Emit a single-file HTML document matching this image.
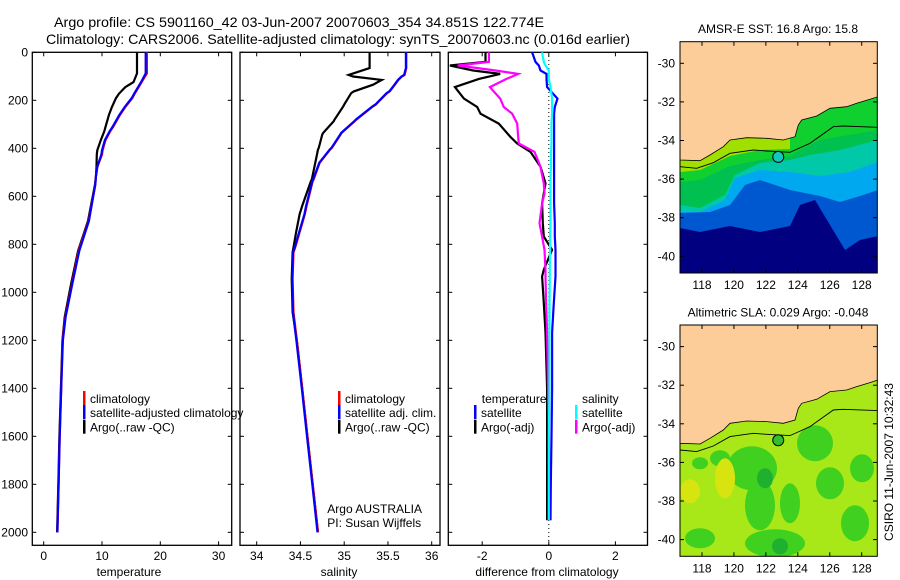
<!DOCTYPE html>
<html><head><meta charset="utf-8"><style>
html,body{margin:0;padding:0;background:#fff;}
svg{display:block;font-family:"Liberation Sans",sans-serif;}
</style></head><body>
<svg id="chart" width="900" height="580" viewBox="0 0 900 580" xmlns="http://www.w3.org/2000/svg">
<text x="54" y="27" font-size="14" textLength="490" lengthAdjust="spacingAndGlyphs">Argo profile: CS 5901160_42 03-Jun-2007 20070603_354 34.851S 122.774E</text>
<text x="46" y="44" font-size="14" textLength="584" lengthAdjust="spacingAndGlyphs">Climatology: CARS2006. Satellite-adjusted climatology: synTS_20070603.nc (0.016d earlier)</text>
<g id="plots"></g>
</svg>
<script>
// depth levels (m)
const tDepth=[0,88,124,145,173,191,228,260,311,329,366,408,426,477,518,551,703,827,965,1103,1200,1400,1600,1800,2000];
const tClim =[17.7,17.7,16.8,16.3,15.6,15.2,14.0,13.1,11.9,11.4,10.6,10.1,10.0,9.2,8.95,8.85,7.7,6.0,4.85,3.7,3.25,3.0,2.75,2.55,2.35];
const tSat  =[17.5,17.5,16.7,16.2,15.5,15.1,13.9,13.0,11.8,11.3,10.5,10.0,9.9,9.2,8.95,8.85,7.75,6.1,4.9,3.75,3.3,3.0,2.75,2.55,2.35];
const tArgo =[16.0,16.0,15.4,14.0,12.9,12.4,11.7,11.2,10.6,10.4,9.8,9.2,9.1,9.05,8.95,8.8,7.6,5.9,4.7,3.6,3.2,2.95,2.7,2.5,2.3];
const sDepth=[0,66,94,101,115,135,163,170,218,225,280,287,336,342,398,405,460,530,537,640,675,750,813,833,944,1083,1205,1400,1600,1800,2000];
const sClim =[35.71,35.71,35.69,35.66,35.62,35.58,35.52,35.49,35.36,35.33,35.14,35.12,34.97,34.96,34.86,34.84,34.72,34.65,34.64,34.57,34.55,34.49,34.44,34.42,34.41,34.42,34.46,34.52,34.58,34.64,34.70];
const sArgo =[35.29,35.29,35.05,35.10,35.43,35.33,35.11,35.08,35.0,34.99,34.89,34.88,34.76,34.75,34.71,34.70,34.67,34.63,34.62,34.52,34.49,34.45,34.42,34.41,34.40,34.41,34.46,34.52,34.58,34.64,34.70];
const dDepth=[0,40,55,76,90,111,145,193,228,256,297,353,380,415,477,491,546,588,629,712,768,823,906,934,1045,1168,1400,1600,1800,1950];
const dTemp =[-1.9,-1.9,-2.97,-2.27,-1.46,-2.1,-2.82,-2.55,-2.15,-2.05,-1.5,-1.15,-0.95,-0.55,-0.25,-0.22,-0.1,-0.15,-0.2,-0.18,-0.15,0.1,-0.15,-0.2,-0.15,-0.1,-0.05,-0.05,-0.05,-0.05];
const dSal  =[-1.8,-1.8,-2.73,-1.6,-0.92,-1.27,-1.77,-1.46,-1.35,-1.1,-0.95,-0.92,-0.9,-0.43,-0.25,-0.23,-0.15,-0.13,-0.2,-0.28,-0.2,-0.13,-0.1,-0.1,-0.08,-0.05,-0.02,0.0,0.0,0.0];
const dTSat =[-0.5,-0.4,-0.3,-0.25,-0.07,-0.07,-0.05,0.26,0.18,0.16,0.16,0.16,0.16,0.16,0.16,0.16,0.16,0.16,0.16,0.18,0.18,0.2,0.2,0.2,0.15,0.1,0.1,0.08,0.06,0.05];
const dSSat =[-0.2,-0.15,-0.1,0.0,0.0,0.0,0.05,0.1,0.1,0.1,0.08,0.08,0.08,0.07,0.07,0.06,0.05,0.05,0.05,0.05,0.04,0.04,0.03,0.03,0.02,0.02,0.02,0.0,0.0,0.0];
const depthTicks=[0,200,400,600,800,1000,1200,1400,1600,1800,2000];
const tTicks=[0,10,20,30], sTicks=[34,34.5,35,35.5,36], dTicks=[-2,0,2];
const latTicks=[-30,-32,-34,-36,-38,-40], lonTicks=[118,120,122,124,126,128];

const NS="http://www.w3.org/2000/svg";
const G=document.getElementById('plots');
function mk(tag,attrs,parent){const e=document.createElementNS(NS,tag);for(const k in attrs)e.setAttribute(k,attrs[k]);(parent||G).appendChild(e);return e;}
const yD=d=>52.3+d*0.24;
const panels=[
 {x0:32.3,x1:231.7,sx:v=>43.7+v*5.83,ticks:tTicks,lab:'temperature',lx:129,nm:'temperature-panel',ylabels:true},
 {x0:240,x1:440,sx:v=>256.7+(v-34)*87.5,ticks:sTicks,lab:'salinity',lx:339,nm:'salinity-panel'},
 {x0:448.3,x1:647.5,sx:v=>548.8+v*33.3,ticks:dTicks,lab:'difference from climatology',lx:547,nm:'difference-panel'}];
panels.forEach(p=>{
 const g=mk('g',{});
 
 
 const r=mk('rect',{x:p.x0,y:52.3,width:p.x1-p.x0,height:493,fill:'none',stroke:'#000','stroke-width':1.3},g);
 
 
 depthTicks.forEach(d=>{
  mk('line',{x1:p.x0,x2:p.x0+4,y1:yD(d),y2:yD(d),stroke:'#000'},g);
  mk('line',{x1:p.x1,x2:p.x1-4,y1:yD(d),y2:yD(d),stroke:'#000'},g);
  if(p.ylabels){const t=mk('text',{x:28,y:yD(d)+4,'font-size':12,'text-anchor':'end'},g);t.textContent=d;
   
   }
 });
 p.ticks.forEach(v=>{
  const x=p.sx(v);
  mk('line',{x1:x,x2:x,y1:52.3,y2:56.3,stroke:'#000'},g);
  mk('line',{x1:x,x2:x,y1:545.3,y2:541.3,stroke:'#000'},g);
  const t=mk('text',{x:x,y:560,'font-size':12,'text-anchor':'middle'},g);t.textContent=v;
  
  
 });
 const t=mk('text',{x:p.lx,y:576,'font-size':12,'text-anchor':'middle'},g);t.textContent=p.lab;
 
 
 p.g=g;
});
function line(p,depths,vals,col,nm,w){
 const pts=vals.map((v,i)=>p.sx(v).toFixed(1)+','+yD(depths[i]).toFixed(1)).join(' ');
 const e=mk('polyline',{points:pts,fill:'none',stroke:col,'stroke-width':w||2.2,'stroke-linejoin':'miter'},p.g);
 
 
}
line(panels[0],tDepth,tArgo,'#000','temp-argo-line');
line(panels[0],tDepth,tClim,'#f00','temp-climatology-line');
line(panels[0],tDepth,tSat,'#00f','temp-satellite-line');
line(panels[1],sDepth,sArgo,'#000','sal-argo-line');
line(panels[1],sDepth,sClim,'#f00','sal-climatology-line');
line(panels[1],sDepth,sClim.map(v=>v-0.005),'#00f','sal-satellite-line');
mk('line',{x1:548.8,x2:548.8,y1:56,y2:545,stroke:'#000','stroke-dasharray':'1,3'},panels[2].g);
line(panels[2],dDepth,dTemp,'#000','diff-temp-argo-line');
line(panels[2],dDepth,dSal,'#f0f','diff-sal-argo-line');
line(panels[2],dDepth,dTSat,'#00f','diff-temp-satellite-line');
line(panels[2],dDepth,dSSat,'#0ff','diff-sal-satellite-line');

function legend(x,y,col,txt,nm){
 const g=mk('g',{});
 
 
 if(col)mk('rect',{x:x,y:y-7,width:2.5,height:14,fill:col},g);
 const t=mk('text',{x:x+(col?7:0),y:y+5,'font-size':12},g);t.textContent=txt;
}
legend(83,398,'#f00','climatology','legend-climatology');
legend(83,412,'#00f','satellite-adjusted climatology','legend-satellite-adjusted');
legend(83,426.7,'#000','Argo(..raw -QC)','legend-argo-raw');
legend(338,398,'#f00','climatology','legend-sal-climatology');
legend(338,412,'#00f','satellite adj. clim.','legend-sal-satellite');
legend(338,426.7,'#000','Argo(..raw -QC)','legend-sal-argo');
legend(481.8,398,null,'temperature','legend-temperature-heading');
legend(582,398,null,'salinity','legend-salinity-heading');
legend(474,412,'#00f','satellite','legend-temp-satellite');
legend(474,426.7,'#000','Argo(-adj)','legend-temp-argo');
legend(575,412,'#0ff','satellite','legend-sal-satellite-diff');
legend(575,426.7,'#f0f','Argo(-adj)','legend-sal-argo-diff');
legend(327.3,508,null,'Argo AUSTRALIA','argo-australia-label');
legend(327.3,522,null,'PI: Susan Wijffels','pi-label');

// maps
const mx=lon=>702+(lon-118)*15.97;
function band(inner,o,pts,col){
 mk('path',{d:'M'+pts.map(p=>p[0]+','+(o+p[1])).join('L')+`V${o+40}H680Z`,fill:col},inner);
}
function map(oy,title,kind,nm){
 const g=mk('g',{});
 
 
 const my=lat=>oy+63.3+(-30-lat)*19.3;
 const T=mk('text',{x:778,y:oy+33,'font-size':12,'text-anchor':'middle'},g);T.textContent=title;
 
 
 const cid='clip'+Math.round(oy);
 const cp=mk('clipPath',{id:cid},g);mk('rect',{x:680,y:oy+41.7,width:197.3,height:231.3},cp);
 const inner=mk('g',{'clip-path':'url(#'+cid+')'},g);
 const o=oy;
 if(kind==='sst'){
  mk('rect',{x:680,y:o+41,width:198,height:233,fill:'#000080'},inner);
  band(inner,o,[[680,228],[700,232],[730,226],[760,232],[790,226],[800,205],[815,200],[830,225],[845,250],[860,240],[878,236]],'#0058d0');
  band(inner,o,[[680,213],[710,212],[730,205],[745,185],[760,180],[790,190],[820,196],[840,202],[860,196],[878,190]],'#00a8f0');
  band(inner,o,[[680,212],[700,212],[725,200],[735,178],[760,170],[790,172],[820,176],[850,172],[878,162]],'#00c8a8');
  band(inner,o,[[680,205],[700,208],[725,195],[735,175],[760,163],[790,160],[810,155],[840,150],[878,140]],'#00c050');
  band(inner,o,[[680,182],[700,180],[730,166],[760,160],[790,156],[800,150],[820,140],[878,130]],'#10d030');
  band(inner,o,[[680,172],[700,170],[730,156],[760,150],[790,149]],'#a0e000');
 } else {
  mk('rect',{x:680,y:o+41,width:198,height:233,fill:'#a8e818'},inner);
  [[700,180,8,6],[752,185,25,22],[760,222,15,25],[790,220,10,20],[815,160,18,18],[830,200,14,16],[862,185,12,14],[775,260,30,14],[700,255,15,10],[855,240,14,18],[720,175,10,8]].forEach(c=>
   mk('ellipse',{cx:c[0],cy:o+c[1],rx:c[2],ry:c[3],fill:'#40d020'},inner));
  [[765,195,8,10],[780,263,8,8]].forEach(c=>mk('ellipse',{cx:c[0],cy:o+c[1],rx:c[2],ry:c[3],fill:'#20b030'},inner));
  [[725,195,10,20],[690,208,10,12]].forEach(c=>mk('ellipse',{cx:c[0],cy:o+c[1],rx:c[2],ry:c[3],fill:'#d8e410'},inner));
 }
 const coast=`M680,${o+160}L700,${o+160.7}L710,${o+155}L723.3,${o+146.7}L730,${o+140}L746.7,${o+137.7}L766.7,${o+138.3}L783.3,${o+140}L795,${o+136.7}L798.3,${o+125}L801.7,${o+120}L816.7,${o+116}L830,${o+108.3}L846.7,${o+106.7}L856.7,${o+103.3}L870,${o+99.3}L878,${o+96.7}`;
 const land=mk('path',{d:coast+`V${o+40}H680Z`,fill:'#fccc99',stroke:'#000','stroke-width':0.8},inner);
 
 
 mk('path',{d:`M680,${o+166.7}L696.7,${o+168.3}L713.3,${o+162.7}L730,${o+153.3}L753.3,${o+150}L766.7,${o+151}L790,${o+152.3}L810,${o+143.3}L833.3,${o+126.7}L843,${o+126}L878,${o+127.3}`,fill:'none',stroke:'#000','stroke-width':0.9},inner);
 const c=mk('circle',{cx:mx(122.774),cy:my(-34.851),r:5.5,fill:kind==='sst'?'#10c8c0':'#30c030',stroke:'#000','stroke-width':1},inner);
 
 
 mk('rect',{x:680,y:o+41.7,width:197.3,height:231.3,fill:'none',stroke:'#000','stroke-width':1},g);
 latTicks.forEach(l=>{const y=my(l);
  mk('line',{x1:680,x2:684,y1:y,y2:y,stroke:'#000'},g);mk('line',{x1:877,x2:873,y1:y,y2:y,stroke:'#000'},g);
  const t=mk('text',{x:675,y:y+4,'font-size':12,'text-anchor':'end'},g);t.textContent=l;
  
  });
 lonTicks.forEach(l=>{const x=mx(l);
  mk('line',{x1:x,x2:x,y1:o+41.7,y2:o+45.7,stroke:'#000'},g);mk('line',{x1:x,x2:x,y1:o+273,y2:o+269,stroke:'#000'},g);
  const t=mk('text',{x:x,y:o+289,'font-size':12,'text-anchor':'middle'},g);t.textContent=l;
  
  });
}
map(0,'AMSR-E SST: 16.8 Argo: 15.8','sst','sst-map');
map(283.3,'Altimetric SLA: 0.029 Argo: -0.048','sla','sla-map');
const cs=mk('text',{x:0,y:0,'font-size':12,'text-anchor':'middle',transform:'translate(893,462) rotate(-90)'});
cs.textContent='CSIRO 11-Jun-2007 10:32:43';


</script>
</body></html>
